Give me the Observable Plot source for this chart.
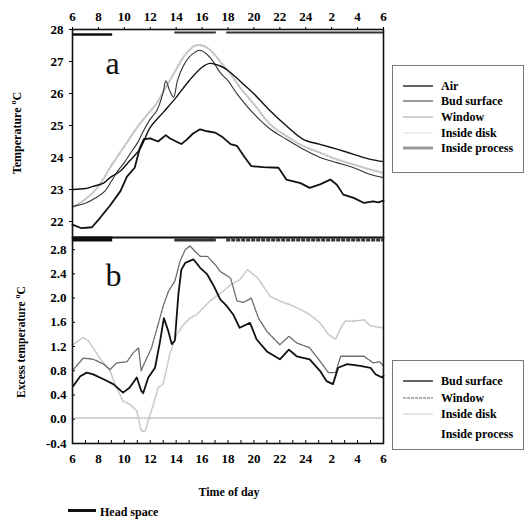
<!DOCTYPE html>
<html><head><meta charset="utf-8">
<script src="https://cdn.jsdelivr.net/npm/d3@7"></script>
<script src="https://cdn.jsdelivr.net/npm/@observablehq/plot@0.6"></script>
<style>
body{margin:0;background:#fff;font-family:"Liberation Serif","Times New Roman",serif;}
#wrap{position:relative;width:524px;height:522px;overflow:hidden;background:#fff;}
.abs{position:absolute;}
.lg{position:absolute;border:1.5px solid #777;background:#fff;font-weight:bold;font-size:12px;box-sizing:border-box;}
.row{position:absolute;left:0;height:14px;display:flex;align-items:center;white-space:nowrap;transform:translateY(-50%);}
.row svg{margin-left:10px;margin-right:8px;}
.ylab{position:absolute;font-weight:bold;white-space:nowrap;transform:translate(-50%,-50%) rotate(-90deg);}
</style></head>
<body><div id="wrap"></div>
<script>
// ---------- data ----------
const xTicks = [0,2,4,6,8,10,12,14,16,18,20,22,24];
const xTickLabels = ["6","8","10","12","14","16","18","20","22","24","2","4","6"];
const yTicksA = [22,23,24,25,26,27,28];
const yTicksB = [-0.4,0,0.4,0.8,1.2,1.6,2.0,2.4,2.8];

// bars along the top of each panel (hours since 6:00)
const barStart = [0, 7.9, 11.9];
const barEnd   = [3.1, 11.1, 24];

// Panel a: temperature (hours since 6:00)
const tAir = [0,1,1.6,2.4,2.9,3.7,4.4,5.2,6,7,8,9,10,10.6,11.4,12,12.9,14,15.25,16.5,17.8,19.1,20.4,21.7,23,24];
const vAir = [23.0,23.03,23.1,23.2,23.37,23.58,23.89,24.26,24.94,25.41,25.88,26.4,26.82,26.94,26.86,26.72,26.4,25.99,25.46,24.99,24.57,24.41,24.26,24.1,23.94,23.87];

const tBudA = [0,1,1.8,2.5,3,3.5,4,4.5,5,5.5,6,6.5,7,7.2,7.5,7.8,8.1,8.5,9,9.5,9.8,10.3,10.8,11.4,12,12.7,14,15.25,16.5,17.8,19.1,20.4,21.7,23,24];
const vBudA = [22.47,22.57,22.74,22.95,23.26,23.58,23.84,24.15,24.45,24.85,25.2,25.46,26.04,26.4,26.09,25.88,26.4,26.82,27.14,27.3,27.35,27.25,27.03,26.65,26.4,25.99,25.36,24.89,24.57,24.26,24.0,23.84,23.68,23.47,23.37];

const tWinA = [0,1,2,3,4,5,6,6.5,7,7.5,8,8.5,9,9.5,10,10.5,11,11.5,12.3,13,14,15.25,16.5,17.8,19.1,20.4,21.7,23,24];
const vWinA = [22.45,22.7,23.1,23.75,24.35,24.95,25.45,25.7,26.05,26.4,26.75,27.1,27.35,27.5,27.5,27.4,27.2,26.95,26.55,26.15,25.67,25.04,24.67,24.36,24.15,23.94,23.78,23.62,23.52];

const tHead = [0,0.7,1.5,2.1,2.9,3.7,4.2,4.8,5.2,5.5,6,6.6,7.2,7.5,8,8.4,8.8,9.3,9.85,10.4,11,11.6,12.2,12.7,13.3,13.8,14.7,15.9,16.5,17.6,18.3,19.1,19.9,20.4,20.9,21.7,22.5,23.2,23.6,24];
const vHead = [21.9,21.79,21.82,22.1,22.5,22.95,23.4,23.68,24.3,24.57,24.6,24.5,24.7,24.6,24.5,24.42,24.55,24.75,24.88,24.82,24.78,24.63,24.42,24.36,24.0,23.73,23.7,23.68,23.31,23.2,23.05,23.16,23.31,23.15,22.84,22.74,22.58,22.63,22.6,22.65];

// Panel b: excess temperature
const tBudB = [0.06,0.6,1.1,1.6,2.4,3.15,3.9,4.4,4.96,5.3,5.45,5.85,6.37,6.76,7.05,7.4,7.66,7.9,8.17,8.4,8.7,9.33,9.85,10.4,10.9,11.4,11.9,12.4,12.9,13.7,14.2,15,16,16.7,17.3,18.3,19.1,19.6,20.1,20.5,21.2,22.2,23,23.4,23.9,24];
const vBudB = [0.55,0.71,0.77,0.74,0.66,0.58,0.44,0.52,0.69,0.47,0.43,0.69,0.85,1.29,1.67,1.45,1.24,1.3,2.06,2.47,2.58,2.64,2.5,2.39,2.2,1.98,1.87,1.73,1.51,1.59,1.32,1.12,0.99,1.15,1.04,0.99,0.8,0.63,0.58,0.85,0.91,0.88,0.85,0.74,0.69,0.72];

const tWinB = [0.06,0.83,1.6,2.4,2.9,3.4,4.2,4.7,5.1,5.3,5.6,6.1,6.6,7.0,7.4,7.9,8.3,8.7,9.07,9.46,9.85,10.4,11.1,11.4,12.2,12.7,13.2,13.8,14.35,15,16,16.7,17.3,18.3,19.1,19.75,20.3,20.7,21.4,22.5,23.2,23.7,24];
const vWinB = [0.82,1.01,0.99,0.91,0.82,0.93,0.95,1.1,1.18,0.8,0.95,1.18,1.56,1.87,2.11,2.28,2.61,2.8,2.86,2.77,2.69,2.69,2.53,2.44,2.33,1.95,1.93,2.0,1.67,1.45,1.23,1.37,1.26,1.18,0.96,0.77,0.77,1.04,1.04,1.04,0.93,0.95,0.88];

const tDiskB = [0.1,0.8,1.2,1.6,2.1,2.9,3.4,3.9,4.4,4.96,5.3,5.6,5.85,6.24,6.6,7,7.5,8.05,8.56,9.07,9.6,10.1,10.6,11.1,11.6,12.2,12.9,13.5,14.3,15.25,16,16.8,17.6,18.3,19.1,19.75,20.3,20.7,21.05,21.7,22.5,23,23.9];
const vDiskB = [1.24,1.35,1.3,1.18,1.01,0.8,0.52,0.3,0.25,0.14,-0.19,-0.2,-0.02,0.25,0.52,0.58,1.07,1.4,1.56,1.67,1.73,1.84,1.95,2.03,2.11,2.22,2.3,2.47,2.33,2.03,1.95,1.89,1.81,1.73,1.59,1.4,1.32,1.51,1.62,1.62,1.64,1.54,1.51];

const tProcB = [0, 24];
const vProcB = [0.02, 0.02];

const legendA = ["Air","Bud surface","Window","Inside disk","Inside process"];
const legendB = ["Bud surface","Window","Inside disk","Inside process"];

// ---------- build ----------
const series = (t, v) => t.map((d, i) => ({t: d, v: v[i]}));
const bars = barStart.map((s, i) => ({x1: s, x2: barEnd[i], i}));
const fmtX = d => xTickLabels[xTicks.indexOf(d)];
const font = {fontFamily: "'Liberation Serif','Times New Roman',serif", fontSize: "13px", fontWeight: "bold", background: "transparent", overflow: "visible"};
const domA = [21.5, 28];
const domB = [-0.4, 3.0];

const wrap = document.getElementById("wrap");

const plotA = Plot.plot({
  width: 390, height: 237, marginLeft: 72, marginRight: 7, marginTop: 29, marginBottom: 0,
  style: font,
  x: {domain: [0, 24]},
  y: {domain: domA},
  marks: [
    Plot.axisX({anchor: "top", ticks: xTicks, tickFormat: fmtX, tickSize: 3, tickPadding: 6, label: null}),
    Plot.axisY({ticks: yTicksA, tickFormat: d => String(d), tickSize: 3, tickPadding: 6, label: null}),
    Plot.ruleY(bars.filter(b => b.i === 0), {x1: "x1", x2: "x2", y: () => domA[1], dy: 5, stroke: "#111", strokeWidth: 2.3}),
    Plot.ruleY(bars.filter(b => b.i > 0), {x1: "x1", x2: "x2", y: () => domA[1], dy: 3, stroke: "#333", strokeWidth: 2}),
    Plot.line(series(tWinA, vWinA), {x: "t", y: "v", stroke: "#c6c6c6", strokeWidth: 2.2, strokeDasharray: "1.5,2", curve: "catmull-rom"}),
    Plot.line(series(tHead, vHead), {x: "t", y: "v", stroke: "#111", strokeWidth: 1.8}),
    Plot.line(series(tBudA, vBudA), {x: "t", y: "v", stroke: "#333", strokeWidth: 1.1, curve: "catmull-rom"}),
    Plot.line(series(tAir, vAir), {x: "t", y: "v", stroke: "#111", strokeWidth: 1.4, curve: "catmull-rom"}),
    Plot.text(["a"], {frameAnchor: "top-left", dx: 33, dy: 22, fontSize: 32, fontWeight: "normal", fill: "#111"}),
    Plot.frame({stroke: "#111", strokeWidth: 1.6})
  ]
});
plotA.style.position = "absolute"; plotA.style.left = "0px"; plotA.style.top = "0px";

const plotB = Plot.plot({
  width: 390, height: 243, marginLeft: 72, marginRight: 7, marginTop: 7, marginBottom: 30,
  style: font,
  x: {domain: [0, 24]},
  y: {domain: domB},
  marks: [
    Plot.axisX({anchor: "bottom", ticks: xTicks, tickFormat: fmtX, tickSize: 0, tickPadding: 10, label: null}),
    Plot.axisX({anchor: "bottom", ticks: 24, tickFormat: () => "", tickSize: -3, label: null}),
    Plot.axisY({ticks: yTicksB, tickFormat: d => d.toFixed(1).replace("\u2212", "-"), tickSize: -3, tickPadding: 9, label: null}),
    Plot.ruleY(bars.filter(b => b.i === 0), {x1: "x1", x2: "x2", y: () => domB[1], dy: 1.5, stroke: "#111", strokeWidth: 5}),
    Plot.ruleY(bars.filter(b => b.i === 1), {x1: "x1", x2: "x2", y: () => domB[1], dy: 2.5, stroke: "#333", strokeWidth: 3}),
    Plot.ruleY(bars.filter(b => b.i === 2), {x1: "x1", x2: "x2", y: () => domB[1], dy: 2.5, stroke: "#333", strokeWidth: 3, strokeDasharray: "4,1"}),
    Plot.line(series(tProcB, vProcB), {x: "t", y: "v", stroke: "#bbb", strokeWidth: 1.4, strokeDasharray: "1.5,1.5"}),
    Plot.line(series(tDiskB, vDiskB), {x: "t", y: "v", stroke: "#c8c8c8", strokeWidth: 1.6, strokeDasharray: "2,1.5"}),
    Plot.line(series(tWinB, vWinB), {x: "t", y: "v", stroke: "#6a6a6a", strokeWidth: 1.3, strokeDasharray: "3,1"}),
    Plot.line(series(tBudB, vBudB), {x: "t", y: "v", stroke: "#111", strokeWidth: 1.8}),
    Plot.text(["b"], {frameAnchor: "top-left", dx: 33, dy: 26, fontSize: 32, fontWeight: "normal", fill: "#111"}),
    Plot.frame({stroke: "#111", strokeWidth: 1.6})
  ]
});
plotB.style.position = "absolute"; plotB.style.left = "0px"; plotB.style.top = "230px";

wrap.appendChild(plotB);
wrap.appendChild(plotA);

// y-axis titles
function ylab(html, x, y, size) {
  const d = document.createElement("div");
  d.className = "ylab"; d.innerHTML = html;
  d.style.left = x + "px"; d.style.top = y + "px"; d.style.fontSize = size + "px";
  wrap.appendChild(d);
}
ylab("Temperature <sup style='font-size:8px'>o</sup>C", 17, 133, 12);
ylab("Excess temperature <sup style='font-size:8px'>o</sup>C", 20, 342, 11.5);

// legends
function sample(style) {
  const s = style || {};
  return `<svg width="30" height="6"><line x1="0" y1="3" x2="30" y2="3" stroke="${s.c||'none'}" stroke-width="${s.w||1}" ${s.d ? `stroke-dasharray="${s.d}"` : ""}/></svg>`;
}
function legend(names, styles, rows, left, top, height) {
  const box = document.createElement("div");
  box.className = "lg";
  box.style.left = left + "px"; box.style.top = top + "px";
  box.style.width = "132px"; box.style.height = height + "px";
  names.forEach((n, i) => {
    const r = document.createElement("div");
    r.className = "row"; r.style.top = rows[i] + "px";
    r.innerHTML = sample(styles[i]) + `<span>${n}</span>`;
    box.appendChild(r);
  });
  wrap.appendChild(box);
}
legend(legendA,
  [{c:"#111",w:1.3},{c:"#777",w:1.5},{c:"#cfcfcf",w:2},{c:"#ddd",w:1},{c:"#9a9a9a",w:3}],
  [20, 35, 51, 67, 82], 392, 65, 108);
legend(legendB,
  [{c:"#333",w:1.5},{c:"#999",w:1.5,d:"3,1"},{c:"#ccc",w:1},null],
  [20, 37, 53, 73], 392, 360, 90);

// x title and head space legend
const xt = document.createElement("div");
xt.className = "abs"; xt.style.cssText += "left:229px;top:492px;transform:translate(-50%,-50%);font-weight:bold;font-size:12px;white-space:nowrap;";
xt.textContent = "Time of day";
wrap.appendChild(xt);

const hs = document.createElement("div");
hs.className = "abs"; hs.style.cssText += "left:68px;top:512px;transform:translateY(-50%);font-weight:bold;font-size:12px;white-space:nowrap;display:flex;align-items:center;";
hs.innerHTML = `<svg width="28" height="6" style="margin-right:4px;margin-top:-4px"><line x1="0" y1="3" x2="28" y2="3" stroke="#111" stroke-width="3"/></svg><span>Head space</span>`;
wrap.appendChild(hs);
</script>
</body></html>
